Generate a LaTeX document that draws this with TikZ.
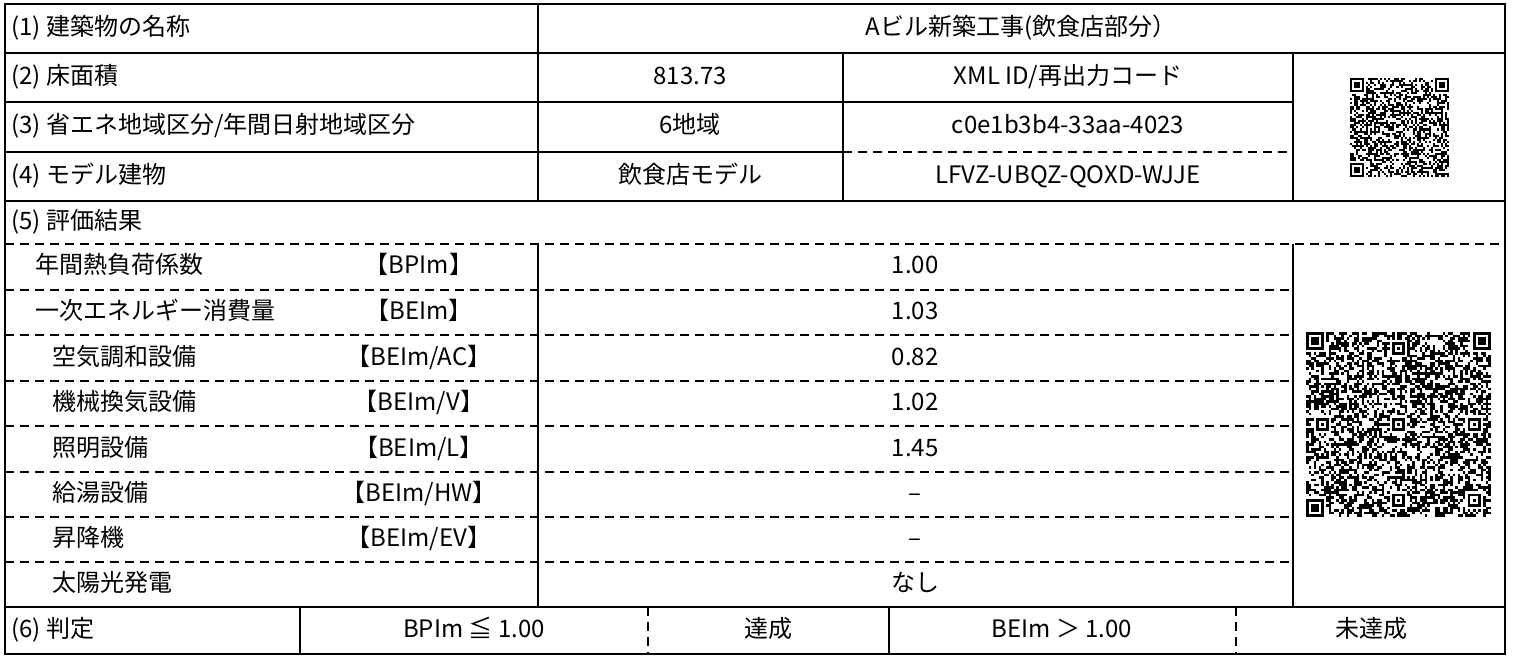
\documentclass[tikz,border=0pt]{standalone}
\usepackage{fontspec}
\setmainfont{Noto Sans CJK JP}
\usepackage{tikz}
\usetikzlibrary{positioning}

\tikzset{
  rule/.style={line width=1.3pt},
  dashrule/.style={line width=0.75pt,dash pattern=on 4.5pt off 3pt},
  lbl/.style={anchor=west,inner sep=0pt,text height=0.85em,text depth=0.15em},
  val/.style={anchor=center,inner sep=0pt,text height=0.85em,text depth=0.15em},
}

\newcommand{\qrfinder}[3]{%
  \fill (#1,#2) rectangle ++(7*#3,7*#3);
  \fill[white] (#1+#3,#2+#3) rectangle ++(5*#3,5*#3);
  \fill (#1+2*#3,#2+2*#3) rectangle ++(3*#3,3*#3);
}
\newcommand{\qralign}[3]{%
  \fill[white] (#1-#3,#2-#3) rectangle ++(7*#3,7*#3);
  \fill (#1,#2) rectangle ++(5*#3,5*#3);
  \fill[white] (#1+#3,#2+#3) rectangle ++(3*#3,3*#3);
  \fill (#1+2*#3,#2+2*#3) rectangle ++(#3,#3);
}
\newcommand{\qrpatch}[5]{%
  \pgfmathsetseed{#5}%
  \foreach \i in {1,...,#3}{%
    \foreach \j in {1,...,#3}{%
      \pgfmathtruncatemacro{\qrbit}{rnd<0.5}%
      \ifnum\qrbit=1 \fill (#1+\i*#4-#4,#2+\j*#4-#4) rectangle ++(#4,#4);\fi
    }%
  }%
  \fill[white] (#1,#2) rectangle ++(8*#4,8*#4);
  \fill[white] (#1+#3*#4-8*#4,#2) rectangle ++(8*#4,8*#4);
  \fill[white] (#1,#2+#3*#4-8*#4) rectangle ++(8*#4,8*#4);
  \qrfinder{#1}{#2}{#4}
  \qrfinder{#1+#3*#4-7*#4}{#2}{#4}
  \qrfinder{#1}{#2+#3*#4-7*#4}{#4}
}

\begin{document}
\begin{tikzpicture}[x=0.5pt,y=-0.5pt,font=\fontsize{12pt}{14pt}\selectfont]
\fill[white] (0,0) rectangle (1513,657);
\useasboundingbox (0,0) rectangle (1513,657);

% rules
\draw[dashrule] (843,152) -- (1293,152);
\draw[dashrule] (5,244) -- (1505,244);
\foreach \y in {290,335,381,426,472,517,562}
  \draw[dashrule] (5,\y) -- (1293,\y);
\draw[dashrule] (648,607) -- (648,654);
\draw[dashrule] (1236,607) -- (1236,654);
\draw[rule] (5,4) rectangle (1505,654);
\draw[rule] (5,53) -- (1505,53);
\draw[rule] (5,102) -- (1293,102);
\draw[rule] (5,152) -- (843,152);
\draw[rule] (5,201) -- (1505,201);
\draw[rule] (5,607) -- (1505,607);
\draw[rule] (538,4) -- (538,201);
\draw[rule] (843,53) -- (843,201);
\draw[rule] (1293,53) -- (1293,201);
\draw[rule] (538,244) -- (538,607);
\draw[rule] (1293,244) -- (1293,607);
\draw[rule] (300,607) -- (300,654);
\draw[rule] (889,607) -- (889,654);

% header rows
\node[lbl] (h1) at (11,28.5) {(1) 建築物の名称};
\node[val] (v1) at (1021,28.5) {Aビル新築工事(飲食店部分）};
\node[lbl] (h2) at (11,77.5) {(2) 床面積};
\node[val] (v2) at (690,77.5) {813.73};
\node[val] (x2) at (1068,77.5) {XML ID/再出力コード};
\node[lbl] (h3) at (11,127) {(3) 省エネ地域区分/年間日射地域区分};
\node[val] (v3) at (690,127) {6地域};
\node[val] (x3) at (1068,127) {c0e1b3b4-33aa-4023};
\node[lbl] (h4) at (11,176.5) {(4) モデル建物};
\node[val] (v4) at (690,176.5) {飲食店モデル};
\node[val] (x4) at (1068,176.5) {LFVZ-UBQZ-QOXD-WJJE};
\node[lbl] (h5) at (11,222.5) {(5) 評価結果};

% results
\node[lbl] (bpi) at (35,267) {年間熱負荷係数};
\node[val] (bpik) at (419,267) {【BPIm】};
\node[val] (bpiv) at (915,267) {1.00};
\node[lbl] (bei) at (35,312.5) {一次エネルギー消費量};
\node[val] (beik) at (419,312.5) {【BEIm】};
\node[val] (beiv) at (915,312.5) {1.03};
\node[lbl] (ac) at (52,358) {空気調和設備};
\node[val] (ack) at (419,358) {【BEIm/AC】};
\node[val] (acv) at (915,358) {0.82};
\node[lbl] (vent) at (52,403.5) {機械換気設備};
\node[val] (ventk) at (419,403.5) {【BEIm/V】};
\node[val] (ventv) at (915,403.5) {1.02};
\node[lbl] (lit) at (52,449) {照明設備};
\node[val] (litk) at (419,449) {【BEIm/L】};
\node[val] (litv) at (915,449) {1.45};
\node[lbl] (hw) at (52,494.5) {給湯設備};
\node[val] (hwk) at (419,494.5) {【BEIm/HW】};
\node[val] (hwv) at (915,494.5) {–};
\node[lbl] (ev) at (52,539.5) {昇降機};
\node[val] (evk) at (419,539.5) {【BEIm/EV】};
\node[val] (evv) at (915,539.5) {–};
\node[lbl] (pv) at (52,584.5) {太陽光発電};
\node[val] (pvv) at (915,584.5) {なし};

% judgement
\node[lbl] (h6) at (11,630.5) {(6) 判定};
\node[val] (j1) at (474,630.5) {BPIm ≦ 1.00};
\node[val] (j2) at (768,630.5) {達成};
\node[val] (j3) at (1062,630.5) {BEIm ＞ 1.00};
\node[val] (j4) at (1371,630.5) {未達成};

% codes
\qrpatch{1350}{78}{49}{2.02}{7}
\qrpatch{1306}{332}{73}{2.53}{11}
\qralign{1306+34*2.53}{332+4*2.53}{2.53}
\qralign{1306+4*2.53}{332+34*2.53}{2.53}
\qralign{1306+34*2.53}{332+34*2.53}{2.53}
\qralign{1306+64*2.53}{332+34*2.53}{2.53}
\qralign{1306+34*2.53}{332+64*2.53}{2.53}
\qralign{1306+64*2.53}{332+64*2.53}{2.53}
\end{tikzpicture}
\end{document}
